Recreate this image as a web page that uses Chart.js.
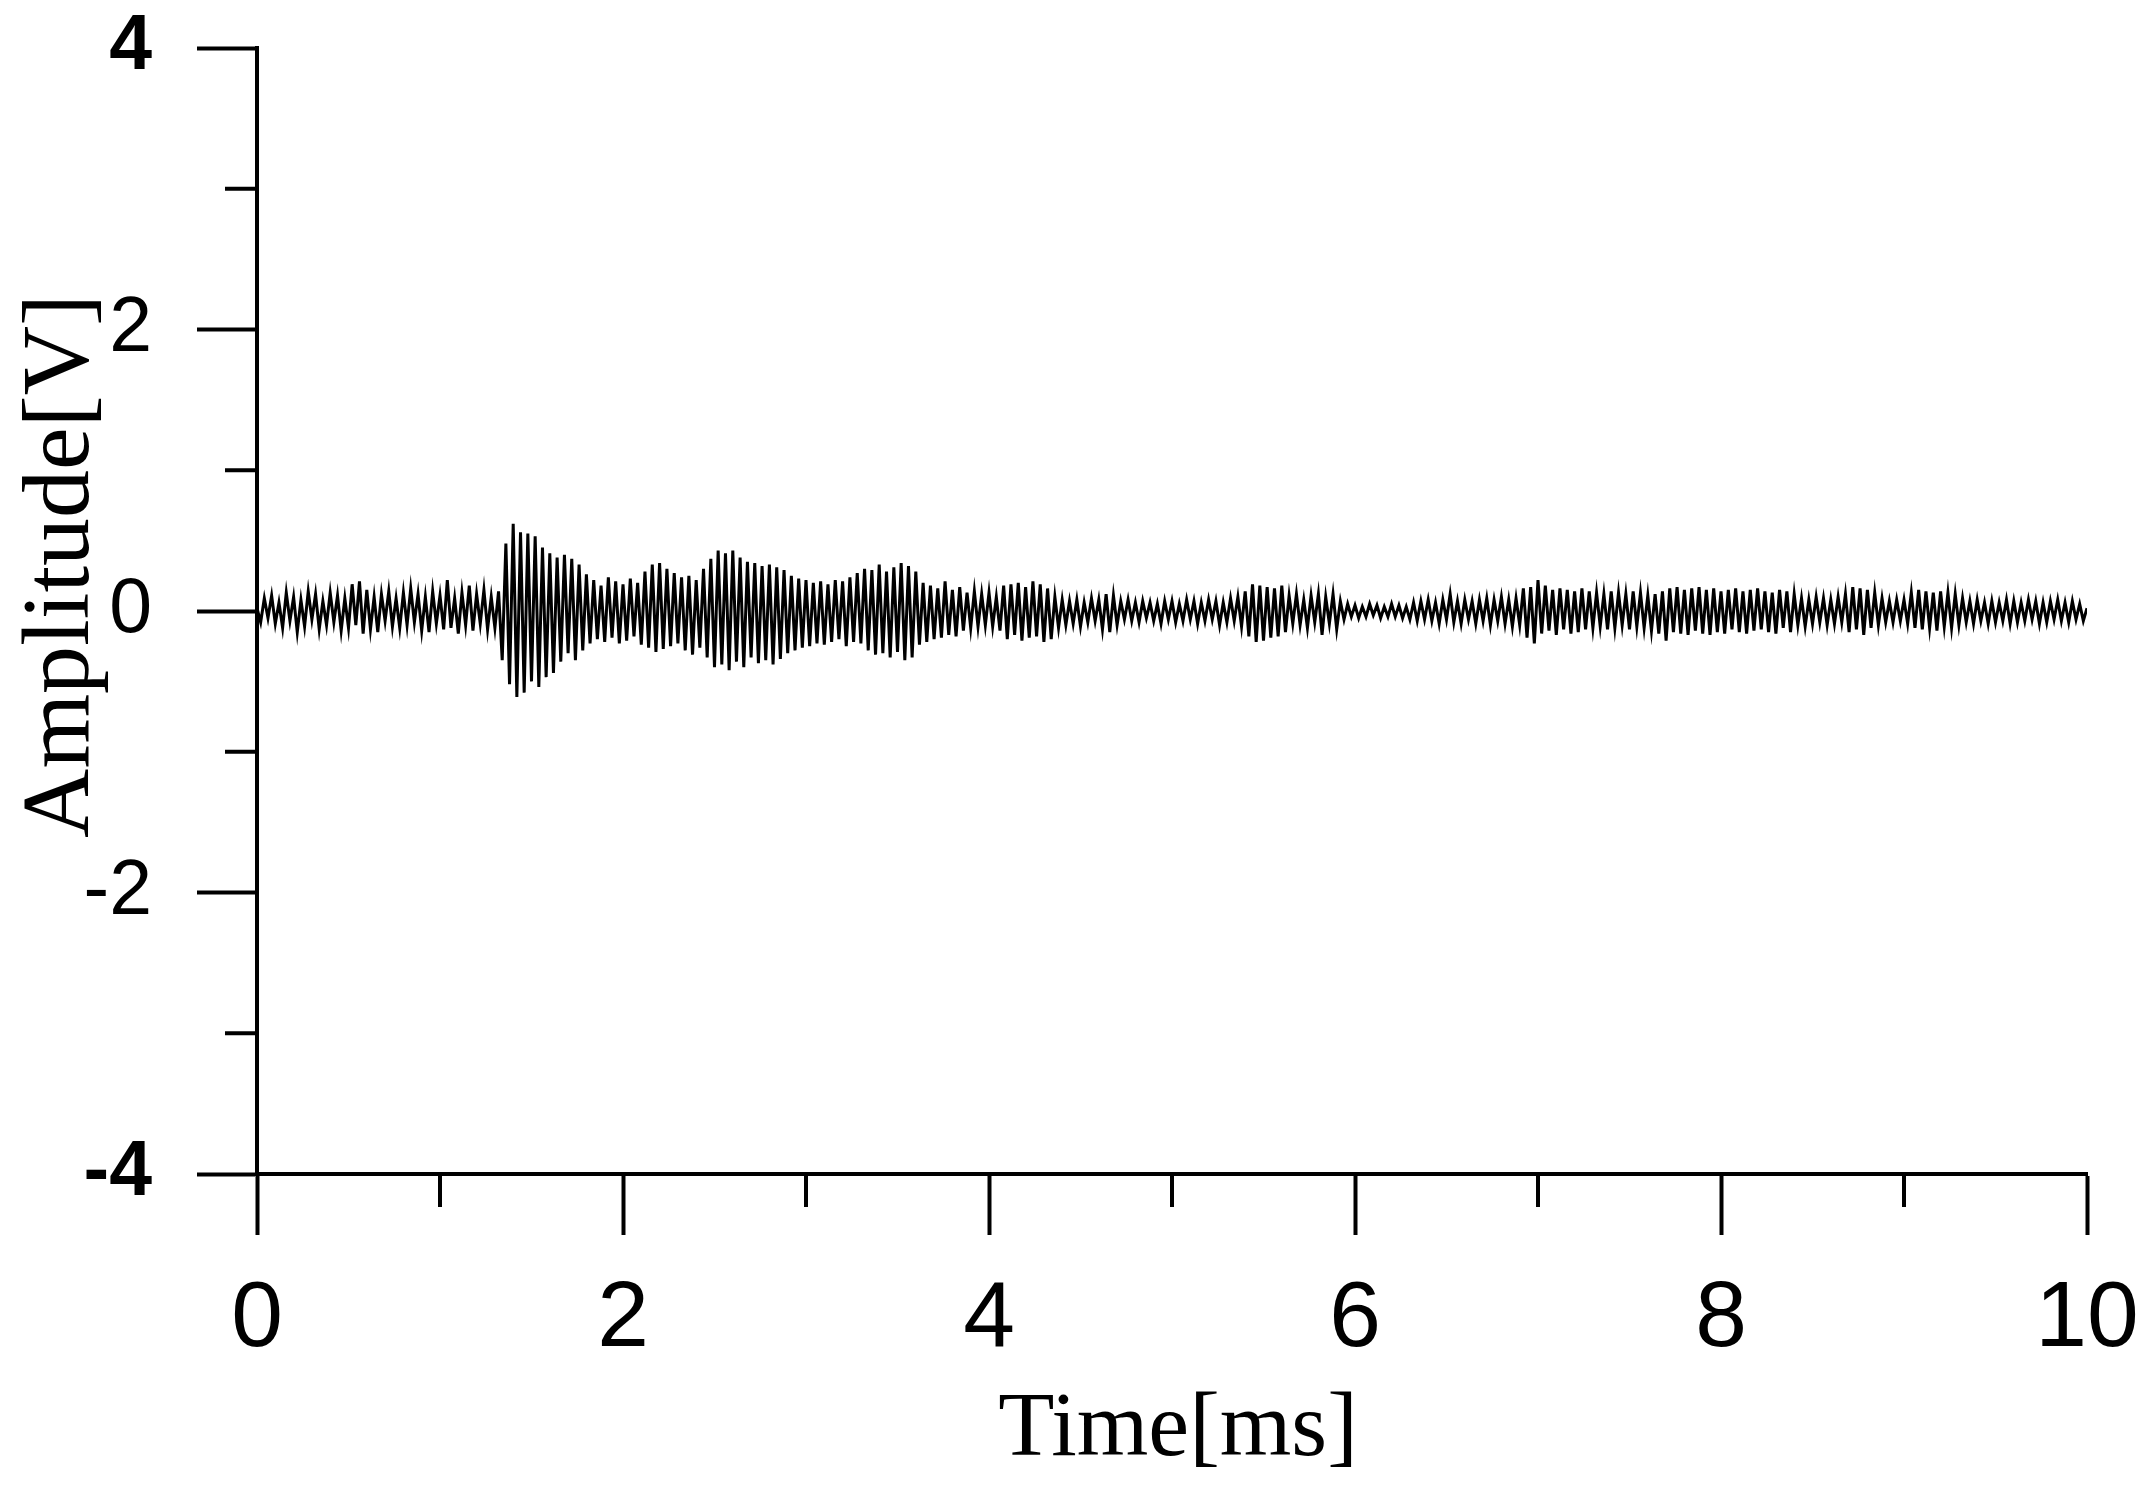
<!DOCTYPE html>
<html>
<head>
<meta charset="utf-8">
<title>Amplitude vs Time</title>
<script src="https://cdn.jsdelivr.net/npm/chart.js@4.4.1/dist/chart.umd.min.js"></script>
<style>
    html, body { margin: 0; padding: 0; background: #ffffff; }
    #wrap { width: 2152px; height: 1492px; }
</style>
</head>
<body>
<div id="wrap"><canvas id="signal" width="2152" height="1492"></canvas></div>
<script>
// Sampling grid of the trace (ms)
const T_START = 0;
const T_STEP = 0.02;

// Amplitude [V], one row = 0.2 ms
const amplitude = [
    0.02, -0.08, 0.09, -0.05, 0.11, -0.09, 0.06, -0.12, 0.13, -0.07,
    0.10, -0.15, 0.08, -0.11, 0.14, -0.06, 0.12, -0.13, 0.07, -0.10,
    0.13, -0.08, 0.11, -0.14, 0.09, -0.12, 0.19, -0.10, 0.21, -0.16,
    0.15, -0.13, 0.10, -0.15, 0.12, -0.07, 0.14, -0.11, 0.09, -0.12,
    0.13, -0.10, 0.16, -0.08, 0.12, -0.14, 0.10, -0.15, 0.14, -0.09,
    0.11, -0.13, 0.22, -0.12, 0.09, -0.16, 0.13, -0.10, 0.18, -0.14,
    0.12, -0.09, 0.15, -0.13, 0.10, -0.12, 0.14, -0.35, 0.48, -0.52,
    0.62, -0.61, 0.56, -0.58, 0.55, -0.50, 0.53, -0.54, 0.45, -0.47,
    0.41, -0.44, 0.38, -0.36, 0.40, -0.30, 0.37, -0.35, 0.33, -0.28,
    0.26, -0.23, 0.22, -0.20, 0.18, -0.22, 0.24, -0.19, 0.21, -0.23,
    0.19, -0.21, 0.23, -0.18, 0.20, -0.24, 0.28, -0.26, 0.33, -0.29,
    0.34, -0.27, 0.30, -0.25, 0.27, -0.23, 0.24, -0.28, 0.25, -0.31,
    0.22, -0.26, 0.30, -0.33, 0.37, -0.40, 0.43, -0.38, 0.41, -0.42,
    0.43, -0.36, 0.38, -0.40, 0.35, -0.33, 0.34, -0.37, 0.32, -0.35,
    0.33, -0.38, 0.31, -0.34, 0.29, -0.30, 0.25, -0.28, 0.23, -0.26,
    0.22, -0.25, 0.20, -0.23, 0.21, -0.24, 0.19, -0.22, 0.22, -0.20,
    0.21, -0.25, 0.24, -0.22, 0.27, -0.23, 0.30, -0.28, 0.29, -0.31,
    0.33, -0.30, 0.28, -0.33, 0.31, -0.29, 0.34, -0.35, 0.32, -0.33,
    0.28, -0.24, 0.20, -0.22, 0.18, -0.20, 0.16, -0.19, 0.21, -0.17,
    0.15, -0.18, 0.17, -0.14, 0.13, -0.12, 0.14, -0.11, 0.12, -0.10,
    0.13, -0.11, 0.10, -0.14, 0.18, -0.20, 0.19, -0.17, 0.20, -0.21,
    0.17, -0.19, 0.21, -0.18, 0.19, -0.22, 0.16, -0.20, 0.10, -0.12,
    0.08, -0.10, 0.07, -0.09, 0.08, -0.11, 0.06, -0.08, 0.09, -0.07,
    0.08, -0.13, 0.12, -0.15, 0.11, -0.10, 0.07, -0.06, 0.08, -0.07,
    0.06, -0.08, 0.07, -0.05, 0.06, -0.07, 0.05, -0.09, 0.07, -0.06,
    0.07, -0.08, 0.05, -0.07, 0.08, -0.06, 0.07, -0.09, 0.06, -0.07,
    0.08, -0.06, 0.07, -0.10, 0.06, -0.08, 0.09, -0.07, 0.10, -0.11,
    0.14, -0.18, 0.19, -0.22, 0.18, -0.21, 0.17, -0.19, 0.16, -0.18,
    0.18, -0.15, 0.11, -0.09, 0.12, -0.10, 0.08, -0.12, 0.11, -0.08,
    0.12, -0.17, 0.10, -0.09, 0.12, -0.13, 0.07, -0.06, 0.05, -0.04,
    0.04, -0.05, 0.03, -0.04, 0.05, -0.03, 0.04, -0.05, 0.03, -0.04,
    0.05, -0.04, 0.04, -0.05, 0.03, -0.06, 0.06, -0.07, 0.07, -0.06,
    0.08, -0.07, 0.06, -0.09, 0.08, -0.06, 0.12, -0.08, 0.07, -0.09,
    0.08, -0.06, 0.07, -0.09, 0.08, -0.07, 0.09, -0.10, 0.08, -0.07,
    0.10, -0.09, 0.08, -0.11, 0.09, -0.10, 0.16, -0.19, 0.17, -0.23,
    0.22, -0.16, 0.18, -0.14, 0.15, -0.17, 0.16, -0.13, 0.15, -0.16,
    0.14, -0.15, 0.16, -0.13, 0.14, -0.12, 0.13, -0.11, 0.12, -0.13,
    0.14, -0.12, 0.13, -0.10, 0.12, -0.13, 0.14, -0.11, 0.13, -0.12,
    0.11, -0.14, 0.12, -0.16, 0.14, -0.21, 0.16, -0.15, 0.17, -0.16,
    0.15, -0.17, 0.16, -0.14, 0.17, -0.16, 0.15, -0.17, 0.16, -0.15,
    0.14, -0.16, 0.15, -0.13, 0.16, -0.15, 0.14, -0.16, 0.15, -0.14,
    0.16, -0.13, 0.14, -0.15, 0.13, -0.16, 0.15, -0.12, 0.14, -0.15,
    0.12, -0.10, 0.09, -0.11, 0.08, -0.09, 0.10, -0.08, 0.09, -0.10,
    0.08, -0.09, 0.10, -0.08, 0.12, -0.15, 0.17, -0.13, 0.16, -0.17,
    0.15, -0.12, 0.13, -0.10, 0.09, -0.08, 0.07, -0.08, 0.08, -0.07,
    0.08, -0.09, 0.13, -0.12, 0.15, -0.13, 0.14, -0.12, 0.13, -0.14,
    0.14, -0.11, 0.13, -0.12, 0.12, -0.10, 0.09, -0.08, 0.07, -0.09,
    0.08, -0.07, 0.06, -0.09, 0.07, -0.08, 0.06, -0.07, 0.08, -0.09,
    0.07, -0.08, 0.06, -0.07, 0.08, -0.06, 0.07, -0.09, 0.06, -0.08,
    0.07, -0.06, 0.08, -0.07, 0.06, -0.08, 0.07, -0.06, 0.05, -0.07,
    0.02
];

// Axes
const xMajorTicks = [0, 2, 4, 6, 8, 10];
const xMinorTicks = [1, 3, 5, 7, 9];
const yMajorTicks = [-4, -2, 0, 2, 4];
const yMinorTicks = [-3, -1, 1, 3];
const yBoldTicks = [4, -4];
const xTitle = "Time[ms]";
const yTitle = "Amplitude[V]";

const SANS = "'Liberation Sans', Arial, sans-serif";
const SERIF = "'Liberation Serif', 'Times New Roman', serif";

const points = amplitude.map((v, i) => ({ x: T_START + i * T_STEP, y: v }));

// Short minor ticks and the two serif axis titles
const axisExtras = {
    id: "axisExtras",
    afterDraw(chart) {
        const { ctx, chartArea, scales: { x, y } } = chart;
        ctx.save();
        ctx.strokeStyle = "#000";
        ctx.lineWidth = 4;
        ctx.beginPath();
        xMinorTicks.forEach((v) => {
            const px = x.getPixelForValue(v);
            ctx.moveTo(px, chartArea.bottom);
            ctx.lineTo(px, chartArea.bottom + 33);
        });
        yMinorTicks.forEach((v) => {
            const py = y.getPixelForValue(v);
            ctx.moveTo(chartArea.left, py);
            ctx.lineTo(chartArea.left - 32, py);
        });
        ctx.stroke();

        ctx.fillStyle = "#000";
        ctx.textAlign = "center";
        ctx.textBaseline = "alphabetic";
        ctx.font = "92px " + SERIF;
        ctx.fillText(xTitle, (chartArea.left + chartArea.right) / 2 + 6, chartArea.bottom + 281);

        ctx.font = "96px " + SERIF;
        ctx.translate(chartArea.left - 169, (chartArea.top + chartArea.bottom) / 2 - 45);
        ctx.rotate(-Math.PI / 2);
        ctx.fillText(yTitle, 0, 0);
        ctx.restore();
    },
};

new Chart(document.getElementById("signal"), {
    type: "line",
    plugins: [axisExtras],
    data: {
        datasets: [
            {
                data: points,
                borderColor: "#000",
                borderWidth: 3,
                pointRadius: 0,
                tension: 0,
                fill: false,
            },
        ],
    },
    options: {
        responsive: false,
        animation: false,
        parsing: false,
        normalized: true,
        layout: { padding: { top: 48, right: 65, left: 0, bottom: 0 } },
        plugins: {
            legend: { display: false },
            tooltip: { enabled: false },
        },
        scales: {
            x: {
                type: "linear",
                min: 0,
                max: 10,
                afterFit: (scale) => {
                    scale.height = 318;
                    scale.paddingLeft = 0;
                    scale.paddingRight = 0;
                },
                border: { color: "#000", width: 4 },
                grid: {
                    drawOnChartArea: false,
                    tickLength: 61,
                    tickWidth: 4,
                    tickColor: (c) => xMajorTicks.includes(c.tick.value) ? "#000" : "rgba(0,0,0,0)",
                },
                ticks: {
                    stepSize: 1,
                    autoSkip: false,
                    maxRotation: 0,
                    padding: 30,
                    color: "#000",
                    font: { family: SANS, size: 93 },
                    callback: (v) => xMajorTicks.includes(v) ? String(v) : "",
                },
            },
            y: {
                type: "linear",
                min: -4,
                max: 4,
                afterFit: (scale) => {
                    scale.width = 257;
                    scale.paddingTop = 0;
                    scale.paddingBottom = 0;
                },
                border: { color: "#000", width: 4 },
                grid: {
                    drawOnChartArea: false,
                    tickLength: 60,
                    tickWidth: 4,
                    tickColor: (c) => yMajorTicks.includes(c.tick.value) ? "#000" : "rgba(0,0,0,0)",
                },
                ticks: {
                    stepSize: 1,
                    autoSkip: false,
                    padding: 45,
                    color: "#000",
                    font: (c) => ({
                        family: SANS,
                        size: 77,
                        weight: c.tick && yBoldTicks.includes(c.tick.value) ? "bold" : "normal",
                    }),
                    callback: (v) => yMajorTicks.includes(v) ? String(v) : "",
                },
            },
        },
    },
});
</script>
</body>
</html>
